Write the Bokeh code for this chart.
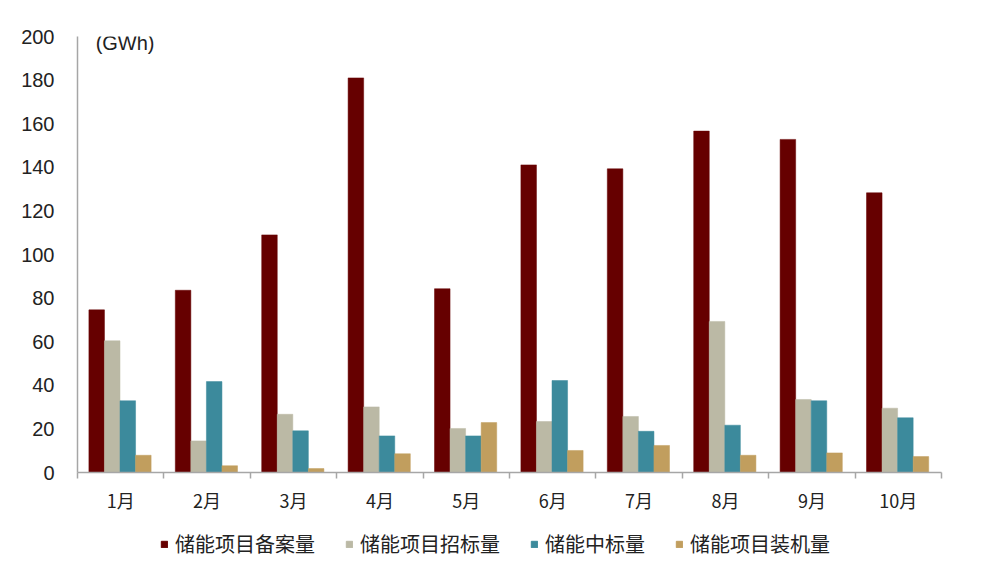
import numpy as np

from bokeh.embed import file_html
from bokeh.layouts import column
from bokeh.models import (ColumnDataSource, FixedTicker, Label, Legend,
                          LegendItem, LinearAxis, Range1d)
from bokeh.plotting import figure
from bokeh.resources import INLINE

months = ["1月", "2月", "3月", "4月", "5月", "6月", "7月", "8月", "9月", "10月"]
filing = [74.6, 83.6, 109.0, 181.0, 84.3, 141.1, 139.3, 156.6, 152.8, 128.3]
tender = [60.4, 14.5, 26.7, 30.1, 20.2, 23.4, 25.7, 69.3, 33.5, 29.5]
awarded = [32.9, 41.7, 19.1, 16.8, 16.8, 42.2, 18.9, 21.7, 32.9, 25.1]
installed = [7.9, 3.1, 1.8, 8.6, 22.9, 10.1, 12.4, 7.9, 9.0, 7.3]

series = [
    ("储能项目备案量", filing, "#660000"),
    ("储能项目招标量", tender, "#BBB9A5"),
    ("储能中标量", awarded, "#3C8A9C"),
    ("储能项目装机量", installed, "#C19E5E"),
]

TICK_FONT = "Liberation Sans"
CJK_FONT = "Noto Sans CJK SC"

p = figure(width=967, height=515, output_backend="svg", toolbar_location=None,
           x_range=Range1d(0, 10), y_range=Range1d(0, 200),
           x_axis_type=None, y_axis_type=None,
           min_border_left=77, min_border_right=26, min_border_top=36,
           min_border_bottom=43)
p.outline_line_color = None
p.xgrid.visible = False
p.ygrid.visible = False

centers = np.arange(len(months)) + 0.5
bar_w = 0.18
offsets = [-1.5 * bar_w, -0.5 * bar_w, 0.5 * bar_w, 1.5 * bar_w]

for (name, vals, color), off in zip(series, offsets):
    src = ColumnDataSource(data=dict(x=centers + off - 0.008, top=vals))
    p.vbar(x="x", top="top", width=bar_w, source=src,
           fill_color=color, line_color=color, line_width=0.5)

# y axis
yaxis = LinearAxis(ticker=FixedTicker(ticks=list(range(0, 201, 20))))
yaxis.axis_line_color = "#A6A6A6"
yaxis.axis_line_width = 1.5
yaxis.major_tick_line_color = None
yaxis.minor_tick_line_color = None
yaxis.major_label_standoff = 17
yaxis.major_label_text_font = TICK_FONT
yaxis.major_label_text_font_size = "20px"
yaxis.major_label_text_color = "#222222"
p.add_layout(yaxis, "left")

# x axis: labels at centres, ticks at category boundaries
xaxis = LinearAxis(ticker=FixedTicker(ticks=list(centers),
                                      minor_ticks=list(range(0, 11))))
xaxis.major_label_overrides = {float(c): m for c, m in zip(centers, months)}
xaxis.axis_line_color = "#A6A6A6"
xaxis.axis_line_width = 1.5
xaxis.major_tick_line_color = None
xaxis.minor_tick_line_color = "#A6A6A6"
xaxis.minor_tick_line_width = 1.5
xaxis.minor_tick_in = 0
xaxis.minor_tick_out = 6
xaxis.major_label_standoff = 8
xaxis.major_label_text_font = CJK_FONT
xaxis.major_label_text_font_size = "18px"
xaxis.major_label_text_color = "#222222"
p.add_layout(xaxis, "below")

unit = Label(x=0.21, y=196.8, text="(GWh)", text_baseline="middle",
             text_font=TICK_FONT, text_font_size="20px", text_color="#222222")
p.add_layout(unit)

# legend strip underneath; swatch renderers sit below its visible range
leg = figure(width=967, height=43, output_backend="svg", toolbar_location=None,
             x_range=Range1d(0, 1), y_range=Range1d(0, 1),
             x_axis_type=None, y_axis_type=None, min_border=0)
leg.outline_line_color = None
leg.xgrid.visible = False
leg.ygrid.visible = False

items = []
for name, vals, color in series:
    r = leg.vbar(x=[0.5], top=[-5], bottom=[-6], width=0.1,
                 fill_color=color, line_color=color)
    items.append(LegendItem(label=name, renderers=[r]))

legend = Legend(items=items, orientation="horizontal", location=(83, 0),
                glyph_width=8, glyph_height=8, label_standoff=7, spacing=30,
                label_text_font=CJK_FONT, label_text_font_size="20px",
                label_text_color="#222222", border_line_color=None,
                background_fill_alpha=0, margin=0, padding=0)
leg.add_layout(legend, "center")

open("out.html", "w").write(file_html(column(p, leg, spacing=0), INLINE))
